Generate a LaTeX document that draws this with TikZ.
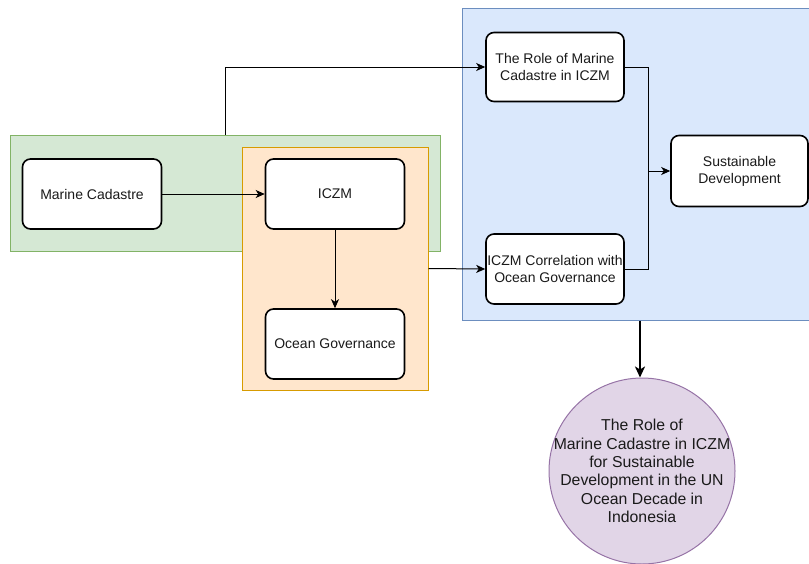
\documentclass[tikz,border=0pt]{standalone}
\usepackage{fontspec}
\setmainfont{Liberation Sans}
\usetikzlibrary{arrows.meta,positioning}
\definecolor{gfill}{HTML}{D5E8D4}\definecolor{gline}{HTML}{82B366}
\definecolor{ofill}{HTML}{FFE6CC}\definecolor{oline}{HTML}{D79B00}
\definecolor{bfill}{HTML}{DAE8FC}\definecolor{bline}{HTML}{6C8EBF}
\definecolor{pfill}{HTML}{E1D5E7}\definecolor{pline}{HTML}{9673A6}
\definecolor{txt}{HTML}{1A1A1A}
\begin{document}
\begin{tikzpicture}[x=1pt,y=-1pt,
  container/.style={draw, line width=1pt, minimum width=#1, inner sep=0pt},
  box/.style={draw=black, fill=white, line width=1.6pt, rounded corners=8pt,
    minimum width=139pt, minimum height=70pt, inner sep=1pt, align=center,
    font=\fontsize{14}{17}\selectfont, text=txt},
  conn/.style={line width=1pt, -{Stealth[length=9pt,width=8pt,inset=2.5pt]}},
  plain/.style={line width=1pt}]
\useasboundingbox (0,0) rectangle (809,563);
% containers
\node[container=430pt, fill=gfill, draw=gline, minimum height=116pt] (green) at (225,193) {};
\node[container=186pt, fill=ofill, draw=oline, minimum height=243pt] (orange) at (335,268.5) {};
\node[container=356pt, fill=bfill, draw=bline, minimum height=312pt] (blue) at (640,164) {};
% nodes
\node[box] (mc) at (92,194) {Marine Cadastre};
\node[box] (iczm) at (335,194) {ICZM};
\node[box] (og) at (335,344) {Ocean Governance};
\node[box, minimum width=138pt, minimum height=69pt] (role) at (555,67) {The Role of Marine\\Cadastre in ICZM};
\node[box, minimum width=138pt] (corr) at (555,269) {ICZM Correlation with\\Ocean Governance};
\node[box, minimum width=137pt, minimum height=71pt] (sust) at (739.5,171) {Sustainable\\Development};
\node[circle, draw=pline, fill=pfill, line width=1pt, minimum size=186pt, inner sep=0pt,
  label={[align=center, font=\fontsize{15.8}{18.3}\selectfont, text=txt, inner sep=0pt]center:{The Role of\\Marine Cadastre in ICZM\\for Sustainable\\Development in the UN\\Ocean Decade in\\Indonesia}}]
  (goal) at (642,471) {};
% connectors
\draw[conn] (mc.east) -- (iczm.west);
\draw[conn] (iczm.south) -- (og.north);
\draw[conn] (green.north) |- (role.west);
\draw[conn] (orange.east) -- (corr.west);
\coordinate (join) at (648,171);
\draw[plain] (role.east) -| (join);
\draw[plain] (corr.east) -| (join);
\draw[conn] (join) -- (sust.west);
\draw[line width=2pt, -{Stealth[length=11pt,width=10pt,inset=3pt]}] (blue.south) -- (blue.south |- goal.north);
\end{tikzpicture}
\end{document}
